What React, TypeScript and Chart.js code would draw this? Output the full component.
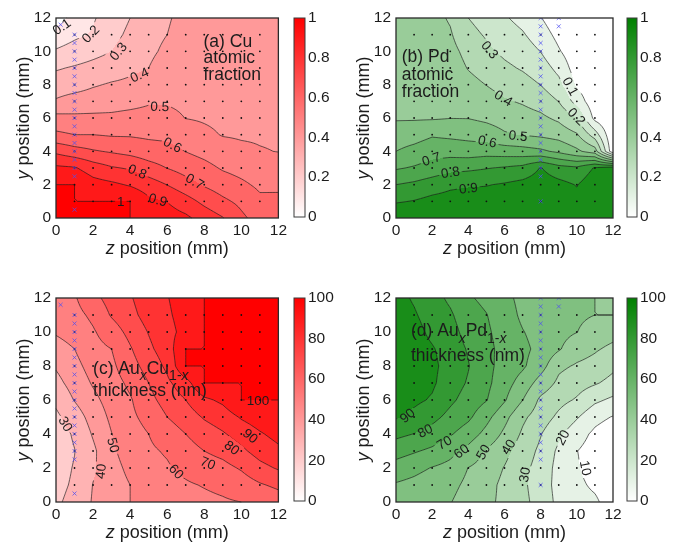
import React, { useEffect, useRef } from "react";
import { Chart, registerables } from "chart.js";

Chart.register(...registerables);

const FONT = "'Liberation Sans', Arial, Helvetica, sans-serif";
const INK = "#1c1c1c";

// measurement grid nodes (mm)
const zNodes = [0, 1, 2, 3, 4, 5, 6, 7, 8, 9, 10, 11, 12];
const yNodes = [0, 1, 2, 3, 4, 5, 6, 7, 8, 9, 10, 11, 12];

// tick labels
const positionTicks = [0, 2, 4, 6, 8, 10, 12];
const fractionTicks = [0, 0.2, 0.4, 0.6, 0.8, 1];
const thicknessTicks = [0, 20, 40, 60, 80, 100];

// (a) Cu atomic fraction: one row per z node, values at yNodes
const cuFraction = [
  [1, 1, 1, 0.92, 0.78, 0.62, 0.53, 0.41, 0.35, 0.29, 0.21, 0.14, 0.06],
  [1, 1, 1, 0.91, 0.74, 0.6, 0.52, 0.44, 0.36, 0.31, 0.24, 0.18, 0.13],
  [1, 1, 0.94, 0.85, 0.71, 0.6, 0.52, 0.45, 0.39, 0.33, 0.27, 0.21, 0.19],
  [1, 1, 0.92, 0.81, 0.69, 0.59, 0.52, 0.46, 0.41, 0.35, 0.3, 0.27, 0.25],
  [1, 1, 0.89, 0.79, 0.67, 0.59, 0.53, 0.47, 0.42, 0.38, 0.35, 0.32, 0.3],
  [0.97, 0.92, 0.85, 0.74, 0.646, 0.581, 0.533, 0.49, 0.44, 0.4, 0.38, 0.37, 0.35],
  [0.95, 0.898, 0.798, 0.698, 0.633, 0.576, 0.529, 0.49, 0.47, 0.45, 0.42, 0.4, 0.39],
  [0.92, 0.84, 0.74, 0.66, 0.598, 0.55, 0.498, 0.48, 0.47, 0.46, 0.45, 0.44, 0.43],
  [0.86, 0.775, 0.69, 0.63, 0.57, 0.52, 0.49, 0.48, 0.47, 0.46, 0.45, 0.45, 0.44],
  [0.805, 0.72, 0.65, 0.59, 0.54, 0.495, 0.48, 0.47, 0.47, 0.46, 0.46, 0.45, 0.45],
  [0.72, 0.676, 0.618, 0.567, 0.519, 0.49, 0.48, 0.47, 0.47, 0.46, 0.46, 0.46, 0.45],
  [0.66, 0.62, 0.582, 0.545, 0.505, 0.49, 0.48, 0.47, 0.47, 0.47, 0.46, 0.46, 0.46],
  [0.65, 0.615, 0.587, 0.542, 0.498, 0.488, 0.48, 0.47, 0.47, 0.47, 0.47, 0.46, 0.46],
];

// (b) Pd atomic fraction
const pdFraction = [
  [0.99, 0.89, 0.8, 0.69, 0.6, 0.55, 0.49, 0.48, 0.47, 0.46, 0.45, 0.44, 0.43],
  [0.99, 0.905, 0.82, 0.71, 0.63, 0.56, 0.49, 0.48, 0.47, 0.46, 0.45, 0.44, 0.43],
  [0.99, 0.93, 0.85, 0.74, 0.66, 0.59, 0.49, 0.48, 0.47, 0.46, 0.45, 0.44, 0.43],
  [0.99, 0.94, 0.88, 0.77, 0.66, 0.58, 0.498, 0.48, 0.46, 0.45, 0.43, 0.41, 0.39],
  [0.99, 0.95, 0.89, 0.78, 0.65, 0.57, 0.497, 0.47, 0.43, 0.395, 0.37, 0.33, 0.3],
  [0.99, 0.95, 0.895, 0.795, 0.66, 0.55, 0.48, 0.44, 0.398, 0.36, 0.32, 0.29, 0.26],
  [0.99, 0.96, 0.91, 0.81, 0.65, 0.51, 0.46, 0.41, 0.365, 0.32, 0.28, 0.245, 0.21],
  [0.99, 0.97, 0.93, 0.83, 0.64, 0.495, 0.44, 0.39, 0.34, 0.29, 0.25, 0.21, 0.17],
  [0.99, 0.98, 0.95, 0.905, 0.62, 0.48, 0.42, 0.36, 0.298, 0.25, 0.198, 0.15, 0.105],
  [0.99, 0.97, 0.93, 0.84, 0.58, 0.46, 0.38, 0.298, 0.23, 0.17, 0.11, 0.07, 0.03],
  [0.97, 0.93, 0.895, 0.82, 0.52, 0.41, 0.3, 0.16, 0.085, 0.05, 0.03, 0.02, 0.01],
  [0.99, 0.98, 0.97, 0.91, 0.45, 0.25, 0.07, 0.03, 0.02, 0.01, 0.01, 0, 0],
  [0.99, 0.98, 0.97, 0.95, 0.02, 0.01, 0, 0, 0, 0, 0, 0, 0],
];

// (c) AuxCu1-x thickness (nm)
const cuThickness = [
  [29, 28, 27, 26, 26, 28, 32, 37, 41, 46, 51, 53, 55],
  [32, 31, 30.5, 29.8, 31, 35, 40.5, 44, 47, 50, 54, 57, 59],
  [41, 40.3, 38.5, 38, 41, 44, 47.5, 51, 54, 57, 59, 62, 67],
  [45, 46, 47, 48.5, 49.8, 52, 54, 56, 58, 60, 65, 71, 74],
  [50, 50, 52, 54, 56, 58, 59, 62, 66, 69, 73, 77, 79],
  [54, 55, 57, 58.5, 60, 63, 67, 70, 74, 78, 80.5, 84, 86],
  [56, 57.5, 59, 61, 65, 70, 74, 78, 82, 85, 87, 88.5, 89.5],
  [57, 59, 62, 66, 70, 75, 80, 86, 100, 100, 93, 94, 95],
  [58, 60.5, 65, 70, 75, 81, 88, 100, 100, 100, 100, 100, 100],
  [59, 62, 67, 73, 79, 85, 92, 100, 100, 100, 100, 100, 100],
  [60, 65, 71, 78, 84, 91, 100, 100, 100, 100, 100, 100, 100],
  [62, 69, 77, 84, 89, 95, 100, 100, 100, 100, 100, 100, 100],
  [65, 72, 81, 88, 93, 97, 100, 100, 100, 100, 100, 100, 100],
];

// (d) AuxPd1-x thickness (nm)
const pdThickness = [
  [55, 59, 66, 74, 82.5, 91, 93, 95, 96, 96, 95, 94, 93],
  [53, 57, 63, 71, 79.8, 87.5, 92, 94, 94.5, 94, 93, 91, 89],
  [50, 54, 59.5, 68, 76, 83, 89, 91.5, 92, 90.8, 88, 86, 84],
  [50.5, 53, 57, 63, 71, 77, 82, 85, 86.5, 86, 84, 81.5, 78],
  [45, 47.5, 49.8, 57, 65, 72, 76, 79, 80.5, 79, 76, 73.5, 71],
  [42, 43.5, 46, 49, 57, 63, 70.5, 72.5, 73, 72.5, 71.5, 70.3, 68],
  [38, 37.5, 39.5, 43, 48, 53, 61, 64, 66, 67, 66, 65, 63],
  [32, 31.5, 32.5, 35, 38.5, 42, 50.2, 56, 61.5, 62.5, 60.5, 58, 57],
  [27, 26, 26.5, 28, 30.5, 35, 38, 46, 54, 57, 56, 53, 51],
  [17, 16, 16.5, 18, 22, 28, 33, 38, 42, 51, 53, 53, 52],
  [14, 12.5, 11, 10.2, 14, 21, 29, 34, 39, 44, 50.2, 52, 51],
  [12, 8, 5, 6, 8, 13, 22, 31, 37, 41, 45, 50, 50],
  [4, 3, 2, 2, 4, 9.5, 18, 27, 32, 38, 43, 50, 45],
];

// contour levels
const fractionLevels = [0.1, 0.2, 0.3, 0.4, 0.5, 0.6, 0.7, 0.8, 0.9, 1];
const thicknessLevels = [10, 20, 30, 40, 50, 60, 70, 80, 90, 100];

// contour label texts and where they sit (z, y in mm)
const cuLabelText = ["0.1", "0.2", "0.3", "0.4", "0.5", "0.6", "0.7", "0.8", "0.9", "1"];
const cuLabelZ = [0.3, 1.85, 3.35, 4.5, 5.6, 6.3, 7.5, 4.4, 5.5, 3.5];
const cuLabelY = [11.5, 11.05, 10.0, 8.6, 6.7, 4.4, 2.2, 2.8, 1.1, 1.0];

const pdLabelText = ["0.1", "0.2", "0.3", "0.4", "0.5", "0.6", "0.7", "0.8", "0.9"];
const pdLabelZ = [9.66, 10.0, 5.2, 5.95, 6.75, 5.05, 1.95, 3.0, 4.0];
const pdLabelY = [7.9, 6.1, 10.1, 7.2, 4.95, 4.6, 3.55, 2.75, 1.8];

const cuThkLabelText = ["30", "40", "50", "60", "70", "80", "90", "100"];
const cuThkLabelZ = [0.53, 2.4, 3.1, 6.5, 8.2, 9.5, 10.5, 10.9];
const cuThkLabelY = [4.6, 1.8, 3.35, 1.8, 2.3, 3.2, 3.9, 6.0];

const pdThkLabelText = ["90", "80", "70", "60", "50", "40", "30", "20", "10"];
const pdThkLabelZ = [0.62, 1.6, 2.66, 3.6, 4.8, 6.2, 7.1, 9.2, 10.5];
const pdThkLabelY = [5.1, 4.2, 3.5, 3.0, 2.95, 3.25, 1.6, 3.8, 2.0];

// measurement points (black dots)
const dotZ = [1, 2, 3, 4, 5, 6, 7, 8, 9, 10, 11];
const dotY = [1, 2, 3, 4, 5, 6, 7, 8, 9, 10, 11];

// blue crosses: line scans
const crossZac = [0.25, 1, 1, 1, 1, 1, 1, 1, 1, 1, 1, 1, 1, 1, 1, 1, 1, 1, 1, 1];
const crossYac = [11.6, 0.5, 2.5, 3, 3.5, 4, 4.5, 5, 5.5, 6, 6.5, 7, 7.5, 8, 8.5, 9, 9.5, 10, 10.5, 11];
const crossZbd = [8, 8, 8, 8, 8, 8, 8, 8, 8, 8, 8, 8, 8, 8, 8, 8, 8, 8, 8, 8, 8, 9, 9];
const crossYbd = [1, 2.5, 3, 3.5, 4, 4.5, 5, 5.5, 6, 6.5, 7, 7.5, 8, 8.5, 9, 9.5, 10, 10.5, 11, 11.5, 12, 11.5, 12];

type RGB = [number, number, number];
type Run = { t: string; it?: boolean; sub?: boolean };

function redMap(f: number): RGB {
  const c = Math.round(255 * (1 - f));
  return [255, c, c];
}
function greenMap(f: number): RGB {
  const c = Math.round(255 * (1 - f));
  return [c, Math.round(255 - 127 * f), c];
}

function sampleGrid(grid: number[][], z: number, y: number): number {
  const n = zNodes.length - 1;
  const fz = (z - zNodes[0]) / (zNodes[1] - zNodes[0]);
  const fy = (y - yNodes[0]) / (yNodes[1] - yNodes[0]);
  let i = Math.floor(fz);
  let j = Math.floor(fy);
  if (i < 0) i = 0;
  if (i > n - 1) i = n - 1;
  if (j < 0) j = 0;
  if (j > n - 1) j = n - 1;
  const t = Math.min(1, Math.max(0, fz - i));
  const u = Math.min(1, Math.max(0, fy - j));
  const a = grid[i][j], b = grid[i + 1][j], c = grid[i][j + 1], d = grid[i + 1][j + 1];
  return a * (1 - t) * (1 - u) + b * t * (1 - u) + c * (1 - t) * u + d * t * u;
}

function drawRuns(ctx: CanvasRenderingContext2D, runs: Run[], x: number, y: number, size: number, align: "left" | "center") {
  const widths: number[] = [];
  let total = 0;
  for (const r of runs) {
    const s = r.sub ? Math.round(size * 0.8) : size;
    ctx.font = `${r.it ? "italic " : ""}${s}px ${FONT}`;
    const w = ctx.measureText(r.t).width;
    widths.push(w);
    total += w;
  }
  let cx = align === "center" ? x - total / 2 : x;
  ctx.textBaseline = "middle";
  ctx.textAlign = "left";
  ctx.fillStyle = INK;
  runs.forEach((r, k) => {
    const s = r.sub ? Math.round(size * 0.8) : size;
    ctx.font = `${r.it ? "italic " : ""}${s}px ${FONT}`;
    ctx.fillText(r.t, cx, y + (r.sub ? size * 0.42 : 0));
    cx += widths[k];
  });
}

interface PanelSpec {
  key: string;
  grid: number[][];
  levels: number[];
  vmax: number;
  cmap: (f: number) => RGB;
  labelText: string[];
  labelZ: number[];
  labelY: number[];
  crossZ: number[];
  crossY: number[];
  noteZ: number;
  noteY: number[];
  note: Run[][];
}

interface Box {
  left: number; top: number; w: number; h: number;
  aL: number; aT: number; aR: number; aB: number;
}

function makeContourPlugin(spec: PanelSpec) {
  return {
    id: "contour-" + spec.key,
    beforeDatasetsDraw(chart: any) {
      const ctx: CanvasRenderingContext2D = chart.ctx;
      const area = chart.chartArea;
      const xs = chart.scales.x;
      const ys = chart.scales.y;
      const L = Math.round(area.left), T = Math.round(area.top);
      const W = Math.round(area.right) - L, H = Math.round(area.bottom) - T;
      const off = document.createElement("canvas");
      off.width = W;
      off.height = H;
      const octx = off.getContext("2d")!;
      const img = octx.createImageData(W, H);
      for (let py = 0; py < H; py++) {
        const yv = ys.getValueForPixel(T + py + 0.5);
        for (let px = 0; px < W; px++) {
          const zv = xs.getValueForPixel(L + px + 0.5);
          const v = sampleGrid(spec.grid, zv, yv);
          let k = -1;
          for (let i = 0; i < spec.levels.length; i++) if (v >= spec.levels[i] - 1e-9) k = i;
          const f = k < 0 ? 0 : spec.levels[k] / spec.vmax;
          const c = spec.cmap(f);
          const o = (py * W + px) * 4;
          img.data[o] = c[0];
          img.data[o + 1] = c[1];
          img.data[o + 2] = c[2];
          img.data[o + 3] = 255;
        }
      }
      octx.putImageData(img, 0, 0);
      ctx.save();
      ctx.drawImage(off, L, T);

      // contour lines via marching squares on a refined bilinear grid
      const S = 6;
      const n = zNodes.length - 1;
      const N = n * S + 1;
      const z0 = zNodes[0], dz = (zNodes[1] - zNodes[0]) / S;
      const y0 = yNodes[0], dy = (yNodes[1] - yNodes[0]) / S;
      const fine = new Float64Array(N * N);
      for (let a = 0; a < N; a++)
        for (let b = 0; b < N; b++) fine[a * N + b] = sampleGrid(spec.grid, z0 + a * dz, y0 + b * dy);
      const toPx = (z: number, y: number): [number, number] => [xs.getPixelForValue(z), ys.getPixelForValue(y)];
      ctx.beginPath();
      for (const lv of spec.levels) {
        for (let a = 0; a < N - 1; a++) {
          for (let b = 0; b < N - 1; b++) {
            const v00 = fine[a * N + b], v10 = fine[(a + 1) * N + b];
            const v11 = fine[(a + 1) * N + b + 1], v01 = fine[a * N + b + 1];
            const i00 = v00 >= lv - 1e-9, i10 = v10 >= lv - 1e-9, i11 = v11 >= lv - 1e-9, i01 = v01 >= lv - 1e-9;
            if (i00 === i10 && i10 === i11 && i11 === i01) continue;
            const interp = (za: number, ya: number, zb: number, yb: number, va: number, vb: number): [number, number] => {
              let t = vb === va ? 0.5 : (lv - va) / (vb - va);
              t = Math.max(0, Math.min(1, t));
              return [za + (zb - za) * t, ya + (yb - ya) * t];
            };
            const za = z0 + a * dz, zb = za + dz, ya = y0 + b * dy, yb = ya + dy;
            const eB = i00 !== i10 ? interp(za, ya, zb, ya, v00, v10) : null;
            const eR = i10 !== i11 ? interp(zb, ya, zb, yb, v10, v11) : null;
            const eT = i11 !== i01 ? interp(zb, yb, za, yb, v11, v01) : null;
            const eL = i01 !== i00 ? interp(za, yb, za, ya, v01, v00) : null;
            const segs: [number, number][][] = [];
            const pts = [eB, eR, eT, eL].filter((p) => p) as [number, number][];
            if (pts.length === 2) segs.push([pts[0], pts[1]]);
            else if (pts.length === 4) {
              const center = (v00 + v10 + v11 + v01) / 4 >= lv;
              if (center === i00) {
                segs.push([eB!, eR!]);
                segs.push([eT!, eL!]);
              } else {
                segs.push([eL!, eB!]);
                segs.push([eR!, eT!]);
              }
            }
            for (const s of segs) {
              const p = toPx(s[0][0], s[0][1]);
              const q = toPx(s[1][0], s[1][1]);
              ctx.moveTo(p[0], p[1]);
              ctx.lineTo(q[0], q[1]);
            }
          }
        }
      }
      ctx.strokeStyle = "rgba(25,25,25,0.85)";
      ctx.lineWidth = 0.75;
      ctx.stroke();

      // inline contour labels
      const ppz = xs.getPixelForValue(1) - xs.getPixelForValue(0);
      const ppy = ys.getPixelForValue(0) - ys.getPixelForValue(1);
      const fs = 13.5;
      spec.labelText.forEach((txt, k) => {
        const z = spec.labelZ[k], y = spec.labelY[k];
        const px = xs.getPixelForValue(z), py = ys.getPixelForValue(y);
        const h = 0.06;
        const dvdz = (sampleGrid(spec.grid, z + h, y) - sampleGrid(spec.grid, z - h, y)) / (2 * h);
        const dvdy = (sampleGrid(spec.grid, z, y + h) - sampleGrid(spec.grid, z, y - h)) / (2 * h);
        const gx = dvdz / ppz, gy = -dvdy / ppy;
        let ang = gx === 0 && gy === 0 ? 0 : Math.atan2(gx, -gy);
        if (!isFinite(ang)) ang = 0;
        if (ang > Math.PI / 2) ang -= Math.PI;
        if (ang < -Math.PI / 2) ang += Math.PI;
        ctx.font = `${fs}px ${FONT}`;
        const w = ctx.measureText(txt).width;
        ctx.save();
        ctx.translate(px, py);
        ctx.rotate(ang);
        ctx.beginPath();
        ctx.rect(-w / 2 - 2, -fs / 2 - 1, w + 4, fs + 2);
        ctx.clip();
        ctx.rotate(-ang);
        ctx.translate(-px, -py);
        ctx.drawImage(off, L, T);
        ctx.restore();
        ctx.save();
        ctx.translate(px, py);
        ctx.rotate(ang);
        ctx.fillStyle = INK;
        ctx.textAlign = "center";
        ctx.textBaseline = "middle";
        ctx.font = `${fs}px ${FONT}`;
        ctx.fillText(txt, 0, 1);
        ctx.restore();
      });
      ctx.restore();
    },
    afterDraw(chart: any) {
      const ctx: CanvasRenderingContext2D = chart.ctx;
      const area = chart.chartArea;
      const xs = chart.scales.x;
      const ys = chart.scales.y;
      ctx.save();
      ctx.strokeStyle = "#2a2a2a";
      ctx.lineWidth = 1.3;
      ctx.strokeRect(area.left, area.top, area.right - area.left, area.bottom - area.top);
      spec.note.forEach((line, k) => {
        drawRuns(ctx, line, xs.getPixelForValue(spec.noteZ), ys.getPixelForValue(spec.noteY[k]), 17.5, "left");
      });
      drawRuns(ctx, [{ t: "z", it: true }, { t: " position (mm)" }], (area.left + area.right) / 2, area.bottom + 31, 18, "center");
      ctx.save();
      ctx.translate(area.left - 32, (area.top + area.bottom) / 2);
      ctx.rotate(-Math.PI / 2);
      drawRuns(ctx, [{ t: "y", it: true }, { t: " position (mm)" }], 0, 0, 18, "center");
      ctx.restore();
      ctx.restore();
    },
  };
}

function createPanel(canvas: HTMLCanvasElement, spec: PanelSpec, box: Box) {
  const dots: { x: number; y: number }[] = [];
  for (const z of dotZ) for (const y of dotY) dots.push({ x: z, y });
  const crosses = spec.crossZ.map((z, k) => ({ x: z, y: spec.crossY[k] }));
  const tickFont = { size: 15.5, family: FONT };
  return new Chart(canvas, {
    type: "scatter",
    data: {
      datasets: [
        {
          data: crosses,
          pointStyle: "crossRot",
          pointRadius: 2.8,
          pointHoverRadius: 2.8,
          borderColor: "rgba(80,80,240,0.95)",
          borderWidth: 0.8,
          backgroundColor: "transparent",
        },
        {
          data: dots,
          pointStyle: "circle",
          pointRadius: 0.9,
          pointHoverRadius: 0.9,
          backgroundColor: "#111",
          borderWidth: 0,
        },
      ],
    },
    options: {
      animation: false,
      responsive: false,
      maintainAspectRatio: false,
      events: [],
      layout: {
        padding: { left: 0, top: box.aT - box.top, right: box.left + box.w - box.aR, bottom: 0 },
      },
      plugins: { legend: { display: false }, tooltip: { enabled: false } },
      scales: {
        x: {
          type: "linear",
          position: "bottom",
          min: 0,
          max: 12,
          afterBuildTicks: (s: any) => {
            s.ticks = positionTicks.map((v) => ({ value: v }));
          },
          ticks: { font: tickFont, color: INK, padding: 3, maxRotation: 0, autoSkip: false, callback: (v: any) => String(v) },
          grid: { display: false, drawTicks: false },
          border: { display: false },
          afterFit: (s: any) => {
            s.height = box.top + box.h - box.aB;
          },
        },
        y: {
          type: "linear",
          position: "left",
          min: 0,
          max: 12,
          afterBuildTicks: (s: any) => {
            s.ticks = positionTicks.map((v) => ({ value: v }));
          },
          ticks: { font: tickFont, color: INK, padding: 5, autoSkip: false, callback: (v: any) => String(v) },
          grid: { display: false, drawTicks: false },
          border: { display: false },
          afterFit: (s: any) => {
            s.width = box.aL - box.left;
          },
        },
      },
    } as any,
    plugins: [makeContourPlugin(spec)],
  });
}

function createColorbar(canvas: HTMLCanvasElement, cmap: (f: number) => RGB, ticks: number[], box: Box) {
  const max = ticks[ticks.length - 1];
  return new Chart(canvas, {
    type: "scatter",
    data: { datasets: [] },
    options: {
      animation: false,
      responsive: false,
      maintainAspectRatio: false,
      events: [],
      layout: {
        padding: { left: box.aL - box.left, top: box.aT - box.top, right: 0, bottom: box.top + box.h - box.aB },
      },
      plugins: { legend: { display: false }, tooltip: { enabled: false } },
      scales: {
        x: { display: false, min: 0, max: 1 },
        y: {
          position: "right",
          min: 0,
          max,
          afterBuildTicks: (s: any) => {
            s.ticks = ticks.map((v) => ({ value: v }));
          },
          ticks: { font: { size: 15.5, family: FONT }, color: INK, padding: 3, autoSkip: false, callback: (v: any) => String(v) },
          grid: { display: false, drawTicks: false },
          border: { display: false },
          afterFit: (s: any) => {
            s.width = box.left + box.w - box.aR;
          },
        },
      },
    } as any,
    plugins: [
      {
        id: "cbar",
        beforeDraw(chart: any) {
          const ctx: CanvasRenderingContext2D = chart.ctx;
          const a = chart.chartArea;
          const g = ctx.createLinearGradient(0, a.bottom, 0, a.top);
          const c0 = cmap(0), c1 = cmap(1);
          g.addColorStop(0, `rgb(${c0[0]},${c0[1]},${c0[2]})`);
          g.addColorStop(1, `rgb(${c1[0]},${c1[1]},${c1[2]})`);
          ctx.save();
          ctx.fillStyle = g;
          ctx.fillRect(a.left, a.top, a.right - a.left, a.bottom - a.top);
          ctx.restore();
        },
        afterDraw(chart: any) {
          const ctx: CanvasRenderingContext2D = chart.ctx;
          const a = chart.chartArea;
          ctx.save();
          ctx.strokeStyle = "#3a3a3a";
          ctx.lineWidth = 1;
          ctx.strokeRect(a.left, a.top, a.right - a.left, a.bottom - a.top);
          ctx.restore();
        },
      },
    ],
  });
}

const panelA: PanelSpec = {
  key: "a", grid: cuFraction, levels: fractionLevels, vmax: 1, cmap: redMap,
  labelText: cuLabelText, labelZ: cuLabelZ, labelY: cuLabelY,
  crossZ: crossZac, crossY: crossYac,
  noteZ: 7.96, noteY: [10.56, 9.57, 8.58],
  note: [[{ t: "(a) Cu" }], [{ t: "atomic" }], [{ t: "fraction" }]],
};
const panelB: PanelSpec = {
  key: "b", grid: pdFraction, levels: fractionLevels, vmax: 1, cmap: greenMap,
  labelText: pdLabelText, labelZ: pdLabelZ, labelY: pdLabelY,
  crossZ: crossZbd, crossY: crossYbd,
  noteZ: 0.32, noteY: [9.67, 8.58, 7.54],
  note: [[{ t: "(b) Pd" }], [{ t: "atomic" }], [{ t: "fraction" }]],
};
const panelC: PanelSpec = {
  key: "c", grid: cuThickness, levels: thicknessLevels, vmax: 100, cmap: redMap,
  labelText: cuThkLabelText, labelZ: cuThkLabelZ, labelY: cuThkLabelY,
  crossZ: crossZac, crossY: crossYac,
  noteZ: 2.0, noteY: [7.81, 6.49],
  note: [
    [{ t: "(c) Au" }, { t: "x", it: true, sub: true }, { t: "Cu" }, { t: "1-", sub: true }, { t: "x", it: true, sub: true }],
    [{ t: "thickness (nm)" }],
  ],
};
const panelD: PanelSpec = {
  key: "d", grid: pdThickness, levels: thicknessLevels, vmax: 100, cmap: greenMap,
  labelText: pdThkLabelText, labelZ: pdThkLabelZ, labelY: pdThkLabelY,
  crossZ: crossZbd, crossY: crossYbd,
  noteZ: 0.83, noteY: [10.03, 8.56],
  note: [
    [{ t: "(d) Au" }, { t: "x", it: true, sub: true }, { t: "Pd" }, { t: "1-", sub: true }, { t: "x", it: true, sub: true }],
    [{ t: "thickness (nm)" }],
  ],
};

const boxA: Box = { left: 0, top: 0, w: 290, h: 272, aL: 56, aT: 18, aR: 281, aB: 218 };
const boxB: Box = { left: 340, top: 0, w: 290, h: 272, aL: 396, aT: 18, aR: 613, aB: 218 };
const boxC: Box = { left: 0, top: 272, w: 290, h: 273, aL: 56, aT: 298, aR: 281, aB: 502 };
const boxD: Box = { left: 340, top: 272, w: 290, h: 273, aL: 396, aT: 298, aR: 613, aB: 502 };
const cbA: Box = { left: 288, top: 0, w: 52, h: 272, aL: 294, aT: 18, aR: 305, aB: 217 };
const cbB: Box = { left: 621, top: 0, w: 60, h: 272, aL: 627, aT: 18, aR: 637, aB: 217 };
const cbC: Box = { left: 288, top: 272, w: 52, h: 273, aL: 294, aT: 298, aR: 305, aB: 501 };
const cbD: Box = { left: 621, top: 272, w: 60, h: 273, aL: 627, aT: 298, aR: 637, aB: 501 };

const boxes = [boxA, boxB, boxC, boxD, cbA, cbB, cbC, cbD];

export default function App() {
  const r0 = useRef<HTMLCanvasElement>(null);
  const r1 = useRef<HTMLCanvasElement>(null);
  const r2 = useRef<HTMLCanvasElement>(null);
  const r3 = useRef<HTMLCanvasElement>(null);
  const r4 = useRef<HTMLCanvasElement>(null);
  const r5 = useRef<HTMLCanvasElement>(null);
  const r6 = useRef<HTMLCanvasElement>(null);
  const r7 = useRef<HTMLCanvasElement>(null);
  const refs = [r0, r1, r2, r3, r4, r5, r6, r7];

  useEffect(() => {
    const charts: Chart[] = [];
    charts.push(createPanel(r0.current!, panelA, boxA));
    charts.push(createPanel(r1.current!, panelB, boxB));
    charts.push(createPanel(r2.current!, panelC, boxC));
    charts.push(createPanel(r3.current!, panelD, boxD));
    charts.push(createColorbar(r4.current!, redMap, fractionTicks, cbA));
    charts.push(createColorbar(r5.current!, greenMap, fractionTicks, cbB));
    charts.push(createColorbar(r6.current!, redMap, thicknessTicks, cbC));
    charts.push(createColorbar(r7.current!, greenMap, thicknessTicks, cbD));
    return () => charts.forEach((c) => c.destroy());
  }, []);

  return (
    <div style={{ position: "absolute", left: 0, top: 0, width: 681, height: 545, background: "#fff", overflow: "hidden" }}>
      {boxes.map((b, k) => (
        <canvas
          key={k}
          ref={refs[k]}
          width={b.w}
          height={b.h}
          style={{ position: "absolute", left: b.left, top: b.top, width: b.w, height: b.h }}
        />
      ))}
    </div>
  );
}
